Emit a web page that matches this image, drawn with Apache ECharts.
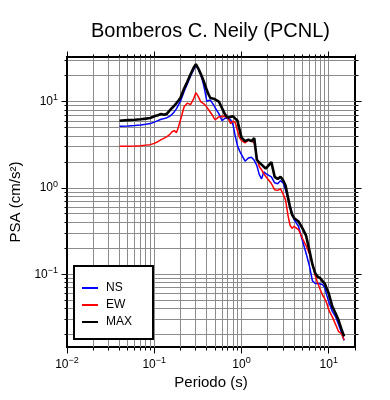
<!DOCTYPE html>
<html lang="es">
<head>
    <meta charset="UTF-8">
    <title>Bomberos C. Neily (PCNL)</title>
    <style>
        html, body { margin: 0; padding: 0; background: #fff; }
    </style>
</head>
<body>
<div id="main" style="width: 390px;height:400px;"></div>
<script src="https://cdn.jsdelivr.net/npm/echarts@6/dist/echarts.min.js"></script>
<script>
    // periodos (s)
    var periods = [0.04, 0.05, 0.06, 0.07, 0.08, 0.09, 0.10, 0.11, 0.12, 0.13, 0.14, 0.15, 0.16, 0.17, 0.18, 0.19,
        0.20, 0.22, 0.24, 0.26, 0.28, 0.30, 0.32, 0.34, 0.36, 0.38, 0.40, 0.42, 0.44, 0.46, 0.48, 0.50,
        0.55, 0.60, 0.65, 0.70, 0.75, 0.80, 0.85, 0.90, 0.95, 1.0, 1.1, 1.2, 1.3, 1.4, 1.5, 1.6, 1.7, 1.8, 1.9,
        2.0, 2.2, 2.4, 2.6, 2.8, 3.0, 3.2, 3.4, 3.6, 3.8, 4.0, 4.5, 5.0, 5.5, 6.0, 6.5, 7.0, 7.5, 8.0, 8.5,
        9.0, 9.5, 10, 11, 12, 13, 14, 15];
    // PSA (cm/s2)
    var psaNS = [5.2, 5.25, 5.33, 5.4, 5.5, 5.6, 5.82, 6.06, 6.3, 6.4, 6.56, 6.8, 7.2, 7.7, 8.35, 9.3,
        10.2, 13.2, 16.3, 19.7, 23.2, 26.4, 24.0, 20.8, 17.2, 13.5, 10.2, 10.2, 10.5, 9.8, 9.2, 8.5,
        7.3, 6.05, 6.5, 6.4, 6.2, 5.45, 3.95, 3.1, 2.7, 2.44, 2.05, 2.23, 2.28, 2.1, 1.82, 1.43, 1.28, 1.54, 1.47,
        1.43, 1.35, 1.15, 1.12, 1.22, 1.15, 0.95, 0.77, 0.62, 0.51, 0.43, 0.36, 0.245, 0.175, 0.125, 0.084, 0.078, 0.078, 0.077, 0.076,
        0.07, 0.057, 0.048, 0.037, 0.032, 0.026, 0.021, 0.017];
    var psaEW = [3.05, 3.06, 3.07, 3.1, 3.15, 3.19, 3.3, 3.45, 3.65, 3.8, 3.95, 4.17, 4.5, 4.64, 4.4, 5.16,
        6.2, 8.8, 9.7, 9.3, 10.6, 12.8, 11.5, 10.1, 9.7, 9.3, 8.7, 8.1, 7.7, 7.1, 6.56, 6.2,
        6.7, 6.8, 6.75, 6.5, 5.6, 6.0, 5.75, 4.6, 3.85, 3.55, 3.35, 3.6, 3.5, 3.35, 2.25, 1.77, 1.63, 1.47, 1.36,
        1.29, 1.13, 0.955, 0.94, 0.98, 0.85, 0.73, 0.49, 0.37, 0.34, 0.36, 0.33, 0.26, 0.215, 0.173, 0.133, 0.096, 0.078, 0.066, 0.057,
        0.052, 0.046, 0.0385, 0.032, 0.026, 0.0215, 0.0205, 0.0172];
    var psaMax = [6.05, 6.15, 6.2, 6.3, 6.4, 6.5, 6.8, 7.0, 7.25, 7.1, 7.3, 7.9, 8.5, 9.05, 9.7, 10.4,
        11.2, 14.3, 17.2, 20.8, 24.4, 27.5, 24.4, 21.3, 18.6, 15.9, 13.7, 12.2, 11.1, 10.9, 10.9, 10.8,
        10.1, 8.4, 7.1, 6.55, 6.7, 6.8, 6.4, 6.05, 4.76, 3.85, 3.5, 3.65, 3.5, 3.8, 2.13, 1.98, 1.87, 1.77, 1.68,
        1.66, 2.0, 1.35, 1.28, 1.35, 1.23, 1.07, 0.79, 0.6, 0.49, 0.45, 0.41, 0.34, 0.28, 0.19, 0.13, 0.103, 0.093, 0.09, 0.083,
        0.078, 0.068, 0.06, 0.042, 0.035, 0.029, 0.023, 0.019];

    // marcas de los ejes (decadas + intermedias)
    var xTickValues = [0.01, 0.02, 0.03, 0.04, 0.05, 0.06, 0.07, 0.08, 0.09, 0.1, 0.2, 0.3, 0.4, 0.5, 0.6, 0.7, 0.8, 0.9,
        1, 2, 3, 4, 5, 6, 7, 8, 9, 10, 20];
    var yTickValues = [0.02, 0.03, 0.04, 0.05, 0.06, 0.07, 0.08, 0.09, 0.1, 0.2, 0.3, 0.4, 0.5, 0.6, 0.7, 0.8, 0.9,
        1, 2, 3, 4, 5, 6, 7, 8, 9, 10, 20, 30];

    var xMin = 0.01, xMax = 20, yMin = 0.0143, yMax = 33.2;
    var font = 'Liberation Sans, Arial, Helvetica, sans-serif';

    function isDecade(v) {
        var l = Math.log10(v);
        return Math.abs(l - Math.round(l)) < 1e-6;
    }
    function powLabel(v) {
        if (!isDecade(v)) return '';
        var e = Math.round(Math.log10(v));
        return '{b|10}{s|' + (e < 0 ? '\u2212' + (-e) : e) + '}';
    }
    var labelRich = {
        b: {fontSize: 12, lineHeight: 17, color: '#000', fontFamily: font},
        s: {fontSize: 9, lineHeight: 9, verticalAlign: 'top', color: '#000', fontFamily: font}
    };

    function pairs(ys) {
        var out = [];
        for (var i = 0; i < periods.length; i++) {
            out.push([periods[i], ys[i]]);
        }
        return out;
    }

    // redondeo a medio pixel para lineas nitidas
    function px(a) { return Math.round(a - 0.5) + 0.5; }
    function line(p0, p1, color) {
        return {
            type: 'line',
            shape: {x1: px(p0[0]), y1: px(p0[1]), x2: px(p1[0]), y2: px(p1[1])},
            style: {stroke: color, lineWidth: 1}
        };
    }

    // rejilla + marcas del eje X
    function renderXTick(params, api) {
        var v = api.value(0);
        var lo = api.coord([v, yMin]), hi = api.coord([v, yMax]);
        var len = isDecade(v) ? 6 : 3;
        var kids = [];
        if (v > xMin && v < xMax) kids.push(line(lo, hi, '#8c8c8c'));
        kids.push(line(lo, [lo[0], lo[1] + len], '#000'));
        kids.push(line(hi, [hi[0], hi[1] - len], '#000'));
        return {type: 'group', children: kids};
    }
    // rejilla + marcas del eje Y
    function renderYTick(params, api) {
        var v = api.value(1);
        var lo = api.coord([xMin, v]), hi = api.coord([xMax, v]);
        var len = isDecade(v) ? 6 : 3;
        var kids = [];
        kids.push(line(lo, hi, '#8c8c8c'));
        kids.push(line(lo, [lo[0] - len, lo[1]], '#000'));
        kids.push(line(hi, [hi[0] + len, hi[1]], '#000'));
        return {type: 'group', children: kids};
    }

    var myChart = echarts.init(document.getElementById('main'));
    var option = {
        animation: false,
        backgroundColor: '#fff',
        title: {
            text: 'Bomberos C. Neily (PCNL)',
            left: 91,
            top: 21,
            padding: 0,
            textStyle: {fontSize: 20, fontWeight: 'normal', color: '#000', fontFamily: font}
        },
        grid: {
            left: 67,
            right: 35,
            top: 57,
            bottom: 53,
            show: true,
            borderColor: '#000',
            borderWidth: 2,
            backgroundColor: '#fff'
        },
        legend: {
            orient: 'vertical',
            left: 74,
            top: 266,
            padding: [16, 21, 11, 8],
            itemGap: 5,
            itemWidth: 16,
            itemHeight: 2,
            icon: 'rect',
            selectedMode: false,
            backgroundColor: '#fff',
            borderColor: '#000',
            borderWidth: 2,
            textStyle: {fontSize: 12, lineHeight: 12, color: '#000', fontFamily: font, padding: [0, 0, 0, 3]},
            data: ['NS', 'EW', 'MAX']
        },
        xAxis: {
            type: 'log',
            logBase: 10,
            min: xMin,
            max: xMax,
            name: 'Periodo (s)',
            nameLocation: 'middle',
            nameGap: 28,
            nameTextStyle: {fontSize: 15, color: '#000', fontFamily: font},
            axisLine: {show: false},
            axisTick: {show: false},
            splitLine: {show: false},
            axisLabel: {margin: 9, formatter: powLabel, rich: labelRich}
        },
        yAxis: {
            type: 'log',
            logBase: 10,
            min: yMin,
            max: yMax,
            name: 'PSA (cm/s\u00b2)',
            nameLocation: 'middle',
            nameGap: 36,
            nameTextStyle: {fontSize: 15, color: '#000', fontFamily: font},
            axisLine: {show: false},
            axisTick: {show: false},
            splitLine: {show: false},
            axisLabel: {margin: 9, formatter: powLabel, rich: labelRich}
        },
        series: [
            {
                type: 'custom',
                silent: true,
                clip: false,
                z: 1,
                renderItem: renderXTick,
                data: xTickValues.map(function (v) { return [v, 1]; })
            },
            {
                type: 'custom',
                silent: true,
                clip: false,
                z: 1,
                renderItem: renderYTick,
                data: yTickValues.map(function (v) { return [1, v]; })
            },
            {
                name: 'NS',
                type: 'line',
                z: 3,
                showSymbol: false,
                silent: true,
                itemStyle: {color: '#0000ff'},
                lineStyle: {color: '#0000ff', width: 1.5},
                data: pairs(psaNS)
            },
            {
                name: 'EW',
                type: 'line',
                z: 4,
                showSymbol: false,
                silent: true,
                itemStyle: {color: '#ff0000'},
                lineStyle: {color: '#ff0000', width: 1.5},
                data: pairs(psaEW)
            },
            {
                name: 'MAX',
                type: 'line',
                z: 5,
                showSymbol: false,
                silent: true,
                itemStyle: {color: '#000'},
                lineStyle: {color: '#000', width: 2.6},
                data: pairs(psaMax)
            }
        ]
    };
    myChart.setOption(option);
</script>
</body>
</html>
